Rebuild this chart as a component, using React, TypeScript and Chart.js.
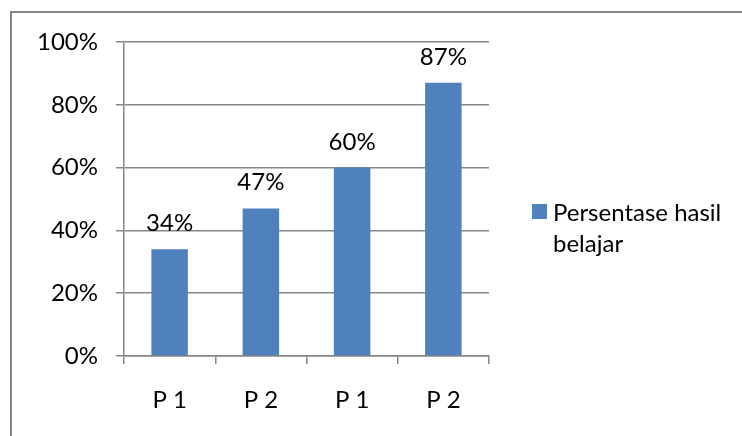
import React, { useEffect, useRef } from "react";
import { Chart, registerables } from "chart.js";

Chart.register(...registerables);

const categories: string[] = ["P 1", "P 2", "P 1", "P 2"];
const values: number[] = [0.34, 0.47, 0.6, 0.87];
const valueLabels: string[] = ["34%", "47%", "60%", "87%"];
const seriesName: string[] = ["Persentase hasil", "belajar"];

const FONT = "Lato, 'Open Sans', sans-serif";
const FONT_SIZE = 24;
const GRID = "#868686";
const BAR = "#4F81BD";

const extrasPlugin = {
  id: "extras",
  afterDraw(chart: any) {
    const ctx = chart.ctx as CanvasRenderingContext2D;
    ctx.save();
    // outer frame
    ctx.strokeStyle = GRID;
    ctx.lineWidth = 2;
    ctx.strokeRect(11, 12, 800, 500);
    // data labels
    ctx.fillStyle = "#000";
    ctx.font = `${FONT_SIZE}px ${FONT}`;
    ctx.textAlign = "center";
    ctx.textBaseline = "alphabetic";
    const meta = chart.getDatasetMeta(0);
    meta.data.forEach((bar: any, i: number) => {
      ctx.fillText(valueLabels[i], bar.x, bar.y - 18);
    });
    // legend
    ctx.fillStyle = BAR;
    ctx.fillRect(532, 204, 15, 15);
    ctx.fillStyle = "#000";
    ctx.textAlign = "left";
    ctx.textBaseline = "middle";
    ctx.fillText(seriesName[0], 553, 213);
    ctx.fillText(seriesName[1], 553, 244);
    ctx.restore();
  },
};

export default function App() {
  const ref = useRef<HTMLCanvasElement>(null);
  useEffect(() => {
    if (!ref.current) return;
    const chart = new Chart(ref.current, {
      type: "bar",
      data: {
        labels: categories,
        datasets: [
          {
            label: seriesName.join(" "),
            data: values,
            backgroundColor: BAR,
            barPercentage: 0.4,
            categoryPercentage: 1,
          },
        ],
      },
      options: {
        responsive: false,
        animation: false,
        layout: { padding: { top: 42, right: 253, left: 0, bottom: 0 } },
        plugins: { legend: { display: false }, tooltip: { enabled: false } },
        scales: {
          x: {
            grid: {
              drawOnChartArea: false,
              drawTicks: true,
              tickLength: 8,
              offset: true,
              color: GRID,
              lineWidth: 1.5,
            },
            border: { display: true, color: GRID, width: 1.5 },
            ticks: {
              color: "#000",
              font: { family: FONT, size: FONT_SIZE },
              padding: 22,
              maxRotation: 0,
            },
            afterFit: (scale: any) => {
              scale.height = 80;
            },
          },
          y: {
            min: 0,
            max: 1,
            grid: {
              color: GRID,
              lineWidth: 1.5,
              tickLength: 8,
              drawTicks: true,
            },
            border: { display: true, color: GRID, width: 1.5 },
            ticks: {
              stepSize: 0.2,
              color: "#000",
              font: { family: FONT, size: FONT_SIZE },
              padding: 18,
              callback: (v: any) => `${Math.round(Number(v) * 100)}%`,
            },
            afterFit: (scale: any) => {
              scale.width = 124;
            },
          },
        },
      },
      plugins: [extrasPlugin],
    });
    return () => chart.destroy();
  }, []);
  return (
    <div style={{ position: "absolute", left: 0, top: 0, width: 742, height: 436, background: "#fff" }}>
      <canvas ref={ref} width={742} height={436} />
    </div>
  );
}
